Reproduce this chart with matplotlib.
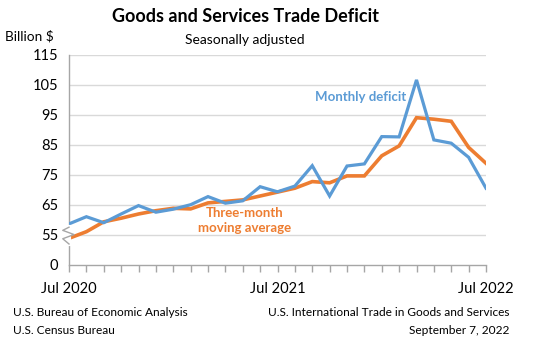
import numpy as np
import matplotlib
matplotlib.use('Agg')
import matplotlib.pyplot as plt

# data (billion $, seasonally adjusted), Jul 2020 .. Jul 2022
months = ['Jul 2020', 'Aug 2020', 'Sep 2020', 'Oct 2020', 'Nov 2020', 'Dec 2020',
          'Jan 2021', 'Feb 2021', 'Mar 2021', 'Apr 2021', 'May 2021', 'Jun 2021',
          'Jul 2021', 'Aug 2021', 'Sep 2021', 'Oct 2021', 'Nov 2021', 'Dec 2021',
          'Jan 2022', 'Feb 2022', 'Mar 2022', 'Apr 2022', 'May 2022', 'Jun 2022',
          'Jul 2022']
monthly = [58.7, 61.1, 59.1, 62.0, 64.8, 62.6, 63.6, 65.1, 67.8, 65.6, 66.4, 71.1,
           69.4, 71.3, 78.1, 68.0, 78.0, 78.7, 87.8, 87.7, 106.7, 86.7, 85.6, 80.9,
           70.6]
moving_avg = [53.9, 56.1, 59.4, 60.6, 62.0, 63.1, 63.9, 63.7, 65.7, 66.2, 66.7, 68.0,
              69.3, 70.6, 72.8, 72.4, 74.7, 74.7, 81.4, 84.7, 94.1, 93.6, 92.9, 84.2,
              78.9]
y_ticks = [55, 65, 75, 85, 95, 105, 115]
x_labels = {0: 'Jul 2020', 12: 'Jul 2021', 24: 'Jul 2022'}

blue = '#5B9BD5'
orange = '#ED7D31'
grid_col = '#D9D9D9'
axis_col = '#A6A6A6'

plt.rcParams['font.family'] = ['Lato', 'DejaVu Sans']

fig = plt.figure(figsize=(5.54, 3.40), dpi=100)
ax = fig.add_axes([69 / 554, 75 / 340, 417 / 554, 210 / 340])

x = np.arange(len(months))
ax.plot(x, moving_avg, color=orange, lw=2.6, solid_joinstyle='miter', zorder=3)
ax.plot(x, monthly, color=blue, lw=2.3, solid_joinstyle='miter', zorder=4)

# axis with a break: 0 is shown one step below 55
ax.set_xlim(0, 24)
ax.set_ylim(45, 115)
ax.set_yticks([45] + y_ticks)
ax.set_yticklabels(['0'] + [str(v) for v in y_ticks])
for v in y_ticks:
    ax.axhline(v, color=grid_col, lw=1, zorder=1)

ax.set_xticks(x)
ax.set_xticklabels([x_labels.get(i, '') for i in x])
ax.tick_params(axis='x', length=5, width=1, color=axis_col, pad=7, labelsize=10.5)
ax.tick_params(axis='y', length=0, pad=8, labelsize=10.5)
for s in ['top', 'right']:
    ax.spines[s].set_visible(False)
for s in ['left', 'bottom']:
    ax.spines[s].set_color(axis_col)
    ax.spines[s].set_linewidth(1)

# break mark on the y axis
ax.plot([0, 0], [0.1, 0.18], transform=ax.transAxes, color='white', lw=3, clip_on=False, zorder=5)
ax.plot([0, -0.015, 0.012, -0.015, 0], [0.1, 0.125, 0.145, 0.165, 0.18],
        transform=ax.transAxes, color=axis_col, lw=1, clip_on=False, zorder=6)

ax.text(16.8, 101.0, 'Monthly deficit', color=blue, fontsize=9.5,
        fontweight='bold', ha='center', va='center')
ax.text(10.1, 59.9, 'Three-month\nmoving average', color=orange, fontsize=9.5,
        fontweight='bold', ha='center', va='center', linespacing=1.35)

fig.text(245 / 554, 1 - 17 / 340, 'Goods and Services Trade Deficit', fontsize=13,
         fontweight='bold', ha='center', va='center')
fig.text(245 / 554, 1 - 40 / 340, 'Seasonally adjusted', fontsize=10,
         ha='center', va='center')
fig.text(5 / 554, 1 - 36 / 340, 'Billion $', fontsize=9.8, ha='left', va='center')

fig.text(13 / 554, 1 - 313 / 340, 'U.S. Bureau of Economic Analysis', fontsize=8.6,
         ha='left', va='center')
fig.text(13 / 554, 1 - 330 / 340, 'U.S. Census Bureau', fontsize=8.6,
         ha='left', va='center')
fig.text(509 / 554, 1 - 313 / 340, 'U.S. International Trade in Goods and Services',
         fontsize=8.6, ha='right', va='center')
fig.text(509 / 554, 1 - 330 / 340, 'September 7, 2022', fontsize=8.6,
         ha='right', va='center')

fig.savefig('out.png', dpi=100)
